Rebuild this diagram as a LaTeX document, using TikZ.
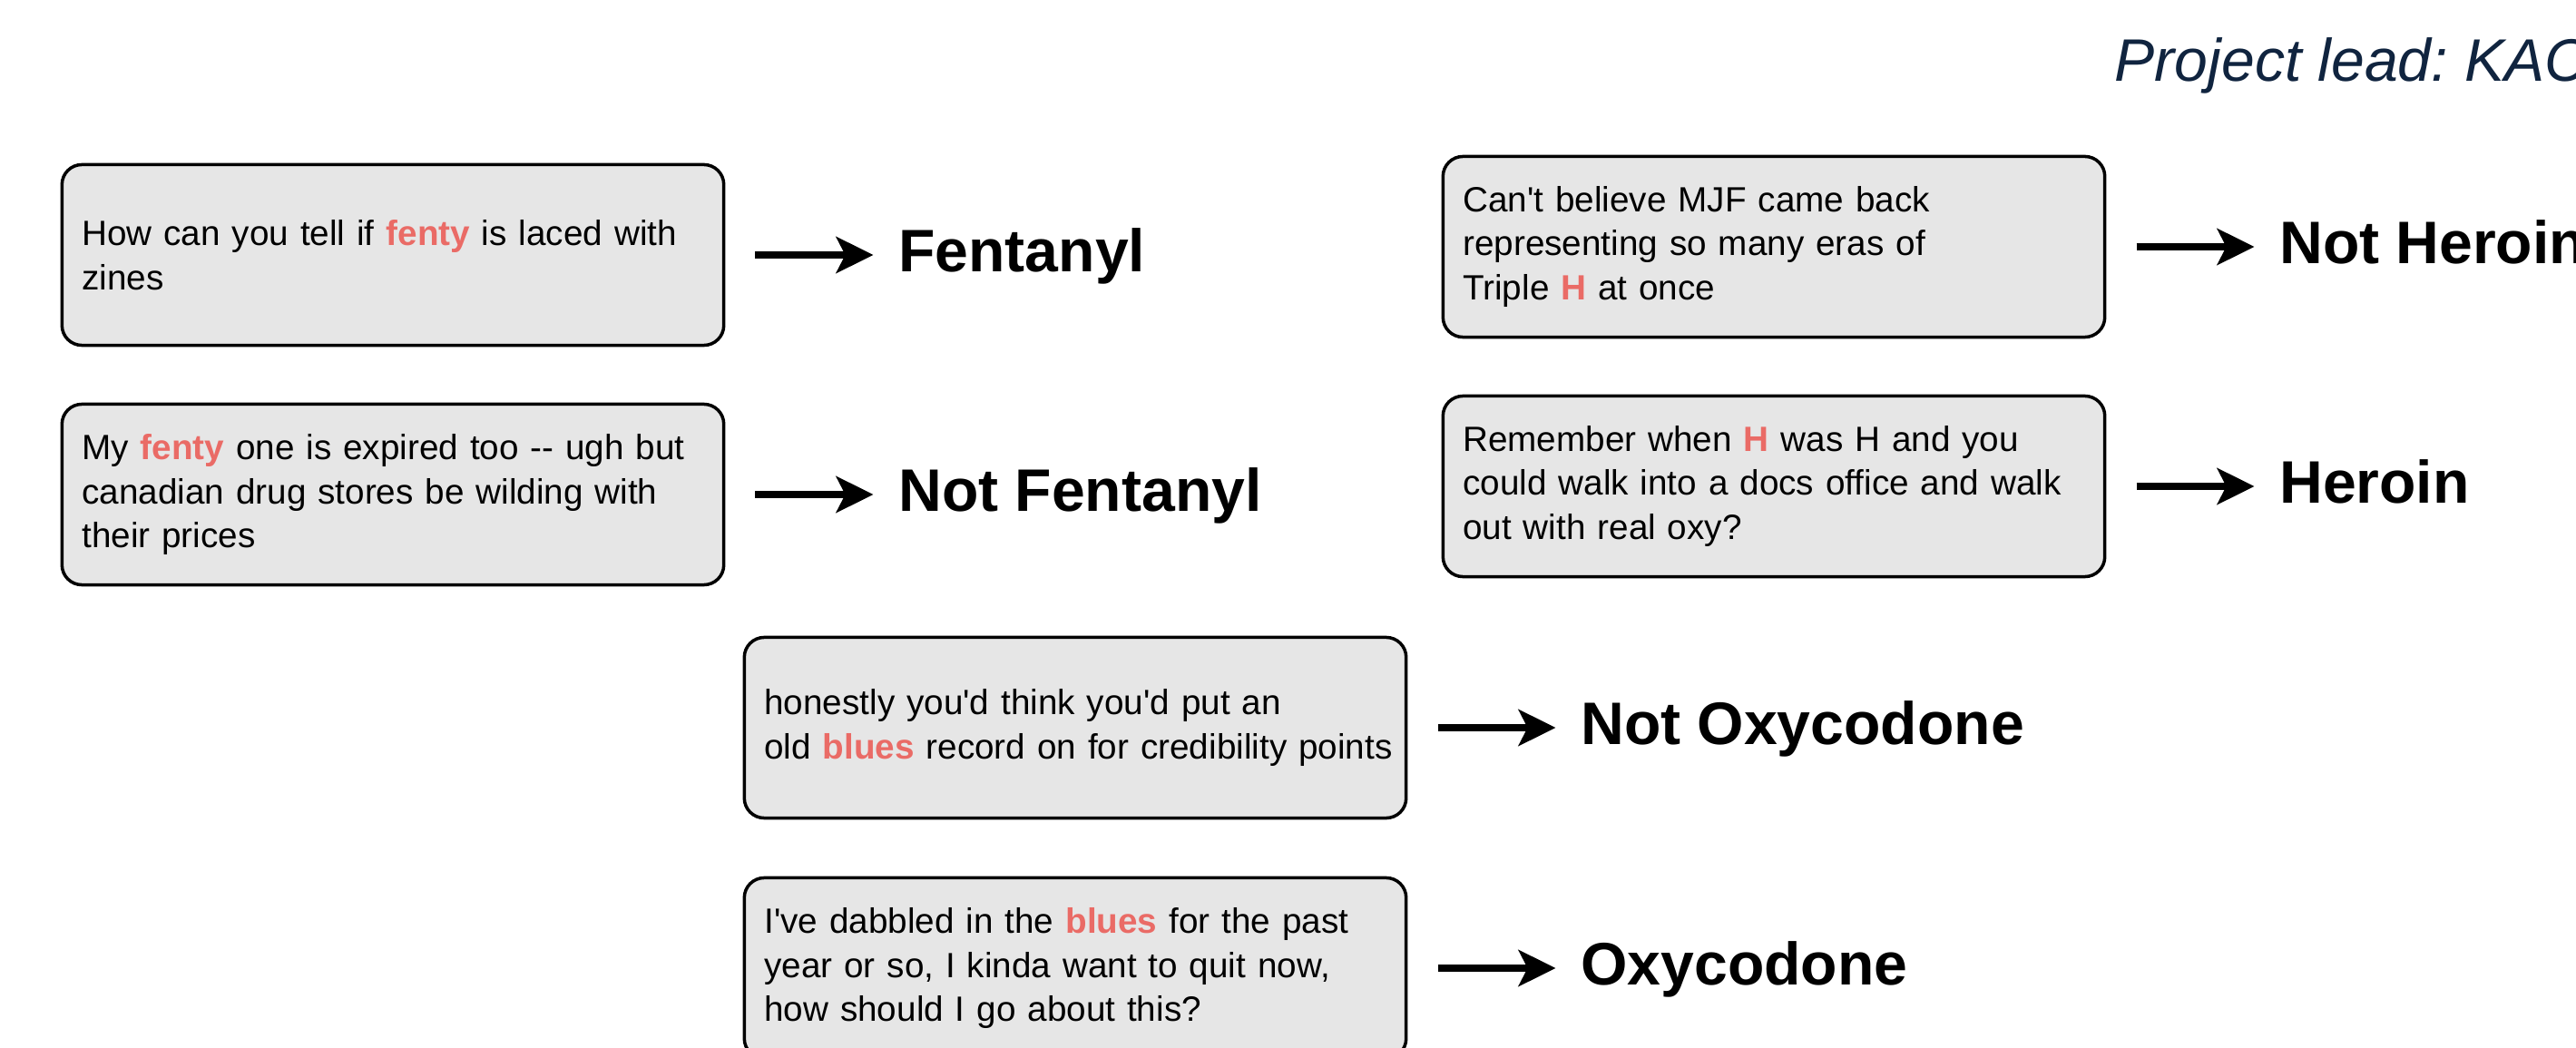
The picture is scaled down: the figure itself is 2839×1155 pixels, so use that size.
\documentclass[tikz,border=0pt]{standalone}
\usepackage{fontspec}
\newfontfamily\helv{Liberation Sans}
\usepackage{tikz}
\usetikzlibrary{arrows.meta}
\usetikzlibrary{positioning}
\frenchspacing
\definecolor{boxgray}{RGB}{230, 230, 230}
\definecolor{slang}{RGB}{234, 107, 102}
\definecolor{leadblue}{RGB}{16, 36, 63}
\newcommand{\slang}[1]{\textcolor{slang}{\textbf{#1}}}
\tikzset{
    arrow/.style={-{Stealth[length=0.41cm, width=0.4cm, inset=0.1cm]},
      line width=2pt, shorten <=0.33cm, shorten >=0.27cm},
    post/.style = {
      rectangle,
      rounded corners=0.22cm,
      draw,
      line width=1pt,
      fill=boxgray,
      minimum width=7.29cm,
      minimum height=1.99cm,
      text width=6.85cm,
      inner xsep=0.22cm,
      align=left,
      font=\helv\fontsize{11}{13.9}\selectfont
    },
    drug/.style = {
      inner sep=0pt,
      text height=14.1pt,
      text depth=3.8pt,
      font=\helv\fontsize{18.8}{22}\selectfont\bfseries
    },
}

\begin{document}
\begin{tikzpicture}[x=0.01cm, y=-0.01cm, node distance=1.9cm]
  \useasboundingbox (0,0) rectangle (2839,1155);

  \node [anchor=base west, inner sep=0pt, text=leadblue,
         font=\helv\fontsize{18.8}{22}\selectfont\itshape] (lead) at (2330,90)
        {Project lead: KAC};

  % fenty
  \node [post] (fentyLaced) at (433,281)
        {How can you tell if \slang{fenty} is laced with\\zines};
  \node [drug, right=of fentyLaced] (fentanyl) {Fentanyl};
  \node [post] (fentyExpired) at (433,545)
        {My \slang{fenty} one is expired too -{}- ugh but\\canadian drug stores be wilding with\\their prices};
  \node [drug, right=of fentyExpired] (notFentanyl) {Not Fentanyl};

  % H
  \node [post] (tripleH) at (1955,272)
        {Can't believe MJF came back\\representing so many eras of\\Triple \slang{H} at once};
  \node [drug, right=of tripleH] (notHeroin) {Not Heroin};
  \node [post] (whenH) at (1955,536)
        {Remember when \slang{H} was H and you\\could walk into a docs office and walk\\out with real oxy?};
  \node [drug, right=of whenH] (heroin) {Heroin};

  % blues
  \node [post] (bluesRecord) at (1185,802)
        {honestly you'd think you'd put an\\\makebox[0pt][l]{old \slang{blues} record on for credibility points}};
  \node [drug, right=of bluesRecord] (notOxy) {Not Oxycodone};
  \node [post] (bluesQuit) at (1185,1067)
        {I've dabbled in the \slang{blues} for the past\\year or so, I kinda want to quit now,\\how should I go about this?};
  \node [drug, right=of bluesQuit] (oxy) {Oxycodone};

  \draw [arrow] (fentyLaced) -- (fentanyl);
  \draw [arrow] (fentyExpired) -- (notFentanyl);
  \draw [arrow] (tripleH) -- (notHeroin);
  \draw [arrow] (whenH) -- (heroin);
  \draw [arrow] (bluesRecord) -- (notOxy);
  \draw [arrow] (bluesQuit) -- (oxy);
\end{tikzpicture}
\end{document}
